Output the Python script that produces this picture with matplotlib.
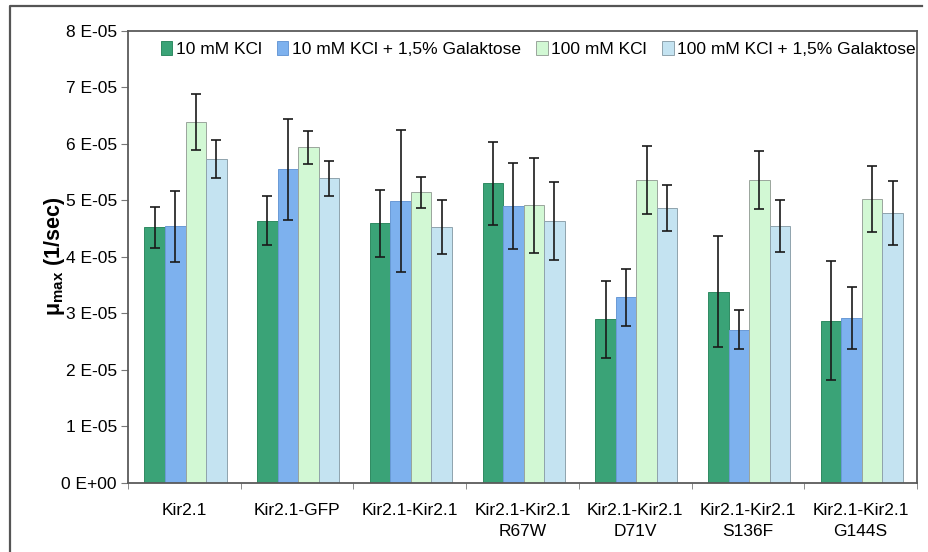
import numpy as np
import matplotlib.pyplot as plt
from matplotlib.lines import Line2D
from matplotlib.patches import Patch

plt.rcParams['font.family'] = ['Liberation Sans', 'DejaVu Sans']
plt.rcParams['mathtext.fontset'] = 'custom'
plt.rcParams['mathtext.rm'] = 'Liberation Sans'
plt.rcParams['mathtext.bf'] = 'Liberation Sans:bold'

# growth rates (in units of 1E-05 1/sec) and standard deviations
constructs = ['Kir2.1', 'Kir2.1-GFP', 'Kir2.1-Kir2.1', 'Kir2.1-Kir2.1\nR67W',
              'Kir2.1-Kir2.1\nD71V', 'Kir2.1-Kir2.1\nS136F', 'Kir2.1-Kir2.1\nG144S']
conditions = ['10 mM KCl', '10 mM KCl + 1,5% Galaktose',
              '100 mM KCl', '100 mM KCl + 1,5% Galaktose']

kcl10 = [4.52, 4.64, 4.59, 5.30, 2.89, 3.38, 2.87]
kcl10_gal = [4.54, 5.55, 4.99, 4.90, 3.28, 2.71, 2.91]
kcl100 = [6.39, 5.94, 5.14, 4.91, 5.36, 5.36, 5.02]
kcl100_gal = [5.73, 5.39, 4.53, 4.64, 4.87, 4.55, 4.78]

kcl10_err = [0.37, 0.44, 0.59, 0.73, 0.68, 0.98, 1.05]
kcl10_gal_err = [0.63, 0.89, 1.26, 0.76, 0.50, 0.34, 0.55]
kcl100_err = [0.50, 0.29, 0.28, 0.84, 0.60, 0.52, 0.58]
kcl100_gal_err = [0.34, 0.31, 0.48, 0.69, 0.41, 0.46, 0.57]

ytick_values = [0, 1, 2, 3, 4, 5, 6, 7, 8]
ytick_labels = ['0 E+00', '1 E-05', '2 E-05', '3 E-05', '4 E-05',
                '5 E-05', '6 E-05', '7 E-05', '8 E-05']

colors = ['#3aa377', '#7db1ee', '#d2f8d4', '#c4e3f1']
edges = ['#2f8a62', '#6a9ad6', '#9aa59c', '#8fa3ad']

fig = plt.figure(figsize=(9.29, 5.52), dpi=100)
ax = fig.add_axes([0.1378, 0.1259, 0.8493, 0.8179])

scale = 1e-5
x = np.arange(len(constructs))
w = 0.182
series = [(kcl10, kcl10_err), (kcl10_gal, kcl10_gal_err),
          (kcl100, kcl100_err), (kcl100_gal, kcl100_gal_err)]
for i, (vals, errs) in enumerate(series):
    pos = x + (i - 1.5) * w + 0.01
    ax.bar(pos, np.array(vals) * scale, width=w, color=colors[i],
           edgecolor=edges[i], linewidth=0.7, zorder=2)
    ax.errorbar(pos, np.array(vals) * scale, yerr=np.array(errs) * scale,
                fmt='none', ecolor='#1a1a1a', elinewidth=1.2,
                capsize=3.5, capthick=1.2, zorder=3)

ax.set_xlim(-0.5, len(constructs) - 0.5)
ax.set_ylim(0, 8 * scale)
ax.set_yticks(np.array(ytick_values) * scale)
ax.set_yticklabels(ytick_labels, fontsize=12.5)
ax.set_xticks(x)
ax.set_xticklabels(constructs, fontsize=12.5, linespacing=1.45)
ax.set_xticks(np.arange(len(constructs) + 1) - 0.5, minor=True)
ax.tick_params(axis='x', which='major', length=0, pad=15)
ax.tick_params(axis='x', which='minor', length=4, color='#777777')
ax.tick_params(axis='y', length=5, color='#777777', pad=3)

for s in ax.spines.values():
    s.set_color('#5a5a5a')
    s.set_linewidth(1.3)

ax.set_ylabel(r'$\mathbf{μ_{max}}$ (1/sec)', fontsize=15.5,
              fontweight='bold', labelpad=-4)

handles = [Patch(facecolor=colors[i], edgecolor=edges[i], linewidth=0.7)
           for i in range(4)]
ax.legend(handles, conditions, loc='upper center', ncol=4, frameon=False,
          fontsize=12.5, bbox_to_anchor=(0.52, 1.012), handlelength=0.65,
          handleheight=0.8, handletextpad=0.2, columnspacing=0.9)

# outer frame of the figure (left and top edges)
fig.add_artist(Line2D([10 / 929, 10 / 929, 922 / 929], [0, 1 - 6 / 552, 1 - 6 / 552],
                      transform=fig.transFigure, color='#555555', linewidth=1.6))

fig.savefig('out.png', dpi=100, facecolor='white')
